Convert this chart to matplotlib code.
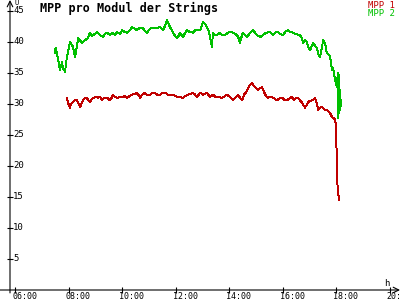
#!/usr/bin/env python3

import numpy as np
import matplotlib
matplotlib.use("Agg")
import matplotlib.pyplot as plt
from matplotlib.transforms import ScaledTranslation, blended_transform_factory

# time of day in hours, voltage per module
t_green = [7.48, 7.52, 7.60, 7.68, 7.76, 7.79, 7.87, 7.94, 8.06, 8.13, 8.17, 8.24, 8.28,
           8.36, 8.43, 8.50, 8.62, 8.73, 8.80, 8.88, 8.92, 8.99, 9.07, 9.18, 9.29, 9.36,
           9.44, 9.55, 9.66, 9.74, 9.81, 9.93, 10.00, 10.11, 10.19, 10.30, 10.37, 10.49,
           10.56, 10.67, 10.75, 10.86, 10.93, 11.05, 11.12, 11.23, 11.31, 11.42, 11.53,
           11.61, 11.68, 11.72, 11.79, 11.87, 11.91, 11.98, 12.06, 12.13, 12.17, 12.24,
           12.28, 12.36, 12.43, 12.54, 12.65, 12.73, 12.84, 12.92, 12.99, 13.03, 13.10,
           13.18, 13.25, 13.29, 13.33, 13.36, 13.40, 13.48, 13.55, 13.66, 13.74, 13.85,
           13.96, 14.04, 14.15, 14.22, 14.30, 14.36, 14.41, 14.45, 14.52, 14.60, 14.67,
           14.79, 14.86, 14.90, 14.97, 15.05, 15.16, 15.27, 15.38, 15.53, 15.64, 15.72,
           15.83, 15.91, 16.02, 16.13, 16.21, 16.28, 16.39, 16.50, 16.65, 16.73, 16.77,
           16.84, 16.92, 16.95, 17.03, 17.10, 17.14, 17.21, 17.29, 17.33, 17.40, 17.48,
           17.51, 17.59, 17.63, 17.66, 17.74, 17.78, 17.81, 17.85, 17.89, 17.93, 17.96,
           18.00, 18.04, 18.06, 18.07, 18.09, 18.11, 18.13, 18.15, 18.19]
u_green = [38.2, 39.0, 37.5, 35.5, 36.8, 35.8, 35.2, 37.6, 40.0, 39.5, 39.2, 37.6, 38.4,
           40.6, 40.3, 39.8, 40.3, 40.6, 41.5, 41.0, 41.1, 41.3, 41.6, 41.1, 40.8, 41.3,
           41.5, 41.1, 41.5, 41.1, 41.6, 41.3, 41.9, 41.6, 41.5, 41.9, 42.4, 42.1,
           41.9, 42.3, 42.3, 41.8, 41.5, 42.1, 42.3, 42.3, 42.3, 42.4, 41.9,
           42.6, 43.5, 43.2, 42.4, 41.9, 41.5, 41.0, 40.6, 41.1, 41.5, 41.0,
           40.8, 41.5, 41.9, 41.6, 41.5, 41.9, 41.9, 41.9, 42.7, 43.2, 42.9,
           42.4, 41.6, 40.8, 39.8, 39.2, 41.5, 41.1, 41.1, 41.5, 41.1, 41.1,
           41.5, 41.6, 41.5, 41.3, 41.1, 40.6, 39.8, 40.6, 41.5, 41.1, 40.8,
           41.5, 41.8, 41.9, 41.5, 41.1, 40.8, 41.1, 41.5, 41.6, 41.1, 41.5,
           41.6, 41.3, 41.1, 41.8, 41.9, 41.6, 41.5, 41.3, 41.1, 40.6, 39.8,
           40.3, 40.0, 39.2, 38.7, 39.5, 39.8, 39.4, 39.0, 38.1, 37.6, 39.2,
           40.3, 39.8, 38.7, 38.2, 37.9, 37.6, 36.5, 35.5, 35.8, 34.7, 33.9,
           33.2, 32.7, 35.0, 30.6, 27.7, 34.7, 32.3, 29.0, 30.6]

t_red = [7.94, 7.98, 8.06, 8.09, 8.17, 8.24, 8.32, 8.39, 8.43, 8.50, 8.54, 8.62, 8.69,
         8.73, 8.80, 8.88, 8.92, 9.03, 9.10, 9.18, 9.25, 9.33, 9.44, 9.55, 9.63, 9.66,
         9.74, 9.85, 9.93, 10.04, 10.11, 10.19, 10.30, 10.37, 10.49, 10.56, 10.64, 10.67,
         10.75, 10.86, 10.93, 11.05, 11.12, 11.23, 11.31, 11.42, 11.53, 11.61, 11.72,
         11.79, 11.91, 11.98, 12.09, 12.17, 12.28, 12.36, 12.47, 12.54, 12.65, 12.73,
         12.80, 12.92, 13.03, 13.18, 13.29, 13.40, 13.51, 13.59, 13.74, 13.85, 13.93,
         14.04, 14.15, 14.26, 14.34, 14.41, 14.49, 14.56, 14.64, 14.71, 14.79, 14.86,
         14.93, 15.01, 15.08, 15.16, 15.23, 15.31, 15.38, 15.46, 15.53, 15.61, 15.72,
         15.79, 15.91, 15.98, 16.09, 16.17, 16.28, 16.36, 16.43, 16.50, 16.58, 16.65,
         16.73, 16.80, 16.84, 16.92, 16.95, 17.03, 17.10, 17.18, 17.21, 17.29, 17.33,
         17.40, 17.48, 17.55, 17.59, 17.66, 17.70, 17.78, 17.85, 17.89, 17.93, 17.96,
         18.00, 18.04, 18.07, 18.11]
u_red = [31.0, 30.2, 29.4, 30.0, 30.3, 30.6, 30.6, 30.0, 29.5, 30.2, 30.6, 31.0, 31.0,
         30.6, 30.3, 30.8, 31.0, 31.1, 31.0, 31.1, 30.6, 31.0, 31.0, 30.6, 31.1, 31.5,
         31.1, 31.0, 31.1, 31.1, 31.3, 31.0, 31.3, 31.5, 31.6, 31.8, 31.3, 31.0,
         31.5, 31.8, 31.5, 31.5, 31.8, 31.8, 31.5, 31.5, 31.8, 31.8, 31.5,
         31.5, 31.5, 31.3, 31.1, 31.1, 31.0, 31.3, 31.5, 31.6, 31.8, 31.5,
         31.1, 31.8, 31.5, 31.8, 31.1, 31.5, 31.1, 31.1, 31.0, 31.3, 31.5,
         31.1, 30.6, 31.1, 31.5, 31.0, 30.6, 31.5, 31.9, 32.6, 33.1, 33.4,
         32.9, 32.6, 32.3, 32.6, 32.7, 31.9, 31.3, 31.0, 31.1, 31.1, 30.8,
         30.6, 31.0, 31.0, 30.6, 30.6, 31.0, 31.1, 30.6, 31.0, 31.0, 30.6,
         30.2, 29.7, 29.4, 30.0, 30.3, 30.5, 30.6, 30.8, 31.0, 30.0, 29.0,
         29.4, 29.5, 29.2, 29.0, 29.0, 28.9, 28.5, 27.9, 27.7, 27.7, 27.4,
         26.6, 17.7, 16.1, 14.5]

x_ticks = [6, 8, 10, 12, 14, 16, 18, 20]
x_labels = ["06:00", "08:00", "10:00", "12:00", "14:00", "16:00", "18:00", "20:00"]
y_ticks = [5, 10, 15, 20, 25, 30, 35, 40, 45]

RED = "#c00000"
GREEN = "#00c000"
FONT = "DejaVu Sans Mono"


def main():
    fig = plt.figure(figsize=(4, 3), dpi=100)
    ax = fig.add_axes([10 / 400, 10 / 300, 390 / 400, 290 / 300])
    ax.set_xlim(5.813, 20.39)
    ax.set_ylim(0, 46.77)
    ax.patch.set_alpha(0)
    for s in ax.spines.values():
        s.set_visible(False)

    ax.plot(t_red, u_red, color=RED, lw=0.7, antialiased=False)
    ax.plot(t_green, u_green, color=GREEN, lw=0.7, antialiased=False)

    # axes with arrows
    ax.annotate("", xy=(1.0, 0), xytext=(-0.03, 0), xycoords="axes fraction",
                arrowprops=dict(arrowstyle="->", lw=0.8, color="black",
                                shrinkA=0, shrinkB=0), annotation_clip=False)
    ax.annotate("", xy=(0, 1.0), xytext=(0, -0.01), xycoords="axes fraction",
                arrowprops=dict(arrowstyle="->", lw=0.8, color="black",
                                shrinkA=0, shrinkB=0), annotation_clip=False)

    ax.set_xticks(x_ticks)
    ax.set_yticks(y_ticks)
    ax.set_xticklabels([])
    ax.set_yticklabels([])
    ax.tick_params(direction="inout", length=5, width=0.8, color="black")

    px = fig.dpi_scale_trans
    tx = blended_transform_factory(ax.transData, ax.transAxes)
    for v, lab in zip(x_ticks, x_labels):
        ax.text(v, 0, lab, transform=tx + ScaledTranslation(-3 / 100, -2 / 100, px),
                ha="left", va="top", fontsize=6, family=FONT, clip_on=False)
    ty = blended_transform_factory(ax.transAxes, ax.transData)
    for v in y_ticks:
        ax.text(0, v, str(v), transform=ty + ScaledTranslation(3 / 100, 0, px),
                ha="left", va="center", fontsize=6.5, family=FONT)

    fig.text(14 / 400, 1 - 0 / 300, "U", ha="left", va="top", fontsize=5, family=FONT)
    fig.text(387 / 400, 1 - 283 / 300, "h", ha="center", va="center", fontsize=6.5,
             family=FONT)

    fig.text(40 / 400, 1 - 2 / 300, "MPP pro Modul der Strings", ha="left", va="top",
             fontsize=8.5, family=FONT, fontweight="bold")
    fig.text(395 / 400, 1 - 1 / 300, "MPP 1", color=RED, ha="right", va="top",
             fontsize=6.5, family=FONT)
    fig.text(395 / 400, 1 - 9 / 300, "MPP 2", color=GREEN, ha="right", va="top",
             fontsize=6.5, family=FONT)

    fig.savefig("out.png", dpi=100)


if __name__ == "__main__":
    main()
